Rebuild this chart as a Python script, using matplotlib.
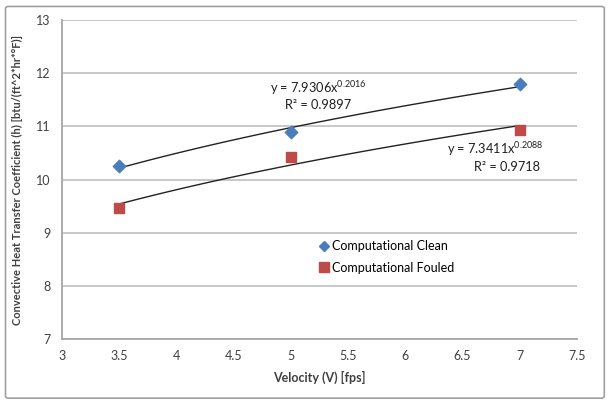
import numpy as np
import matplotlib.pyplot as plt
from matplotlib.patches import FancyBboxPatch
from matplotlib.lines import Line2D

plt.rcParams['font.family'] = ['Lato', 'DejaVu Sans']
plt.rcParams['mathtext.fontset'] = 'custom'
plt.rcParams['mathtext.rm'] = 'Lato'
plt.rcParams['mathtext.it'] = 'Lato'

# data
velocity = [3.5, 5, 7]
h_clean = [10.25, 10.9, 11.79]
h_fouled = [9.47, 10.43, 10.93]

x_ticks = [3, 3.5, 4, 4.5, 5, 5.5, 6, 6.5, 7, 7.5]
y_ticks = [7, 8, 9, 10, 11, 12, 13]

clean_eq = [r'y = 7.9306x$^{\mathregular{0.2016}}$', 'R² = 0.9897']
fouled_eq = [r'y = 7.3411x$^{\mathregular{0.2088}}$', 'R² = 0.9718']

blue = '#4a7ebb'
red = '#be4b48'

fig = plt.figure(figsize=(6.11, 4.03), dpi=100)
ax = fig.add_axes([0.1015, 0.159, 0.8425, 0.791])

# outer chart frame
fig.patches.append(FancyBboxPatch((0.009, 0.012), 0.98, 0.972, boxstyle='round,pad=0,rounding_size=0.005',
                                  transform=fig.transFigure, fill=False, edgecolor='#a0a0a0', lw=1.2))

ax.set_xlim(3, 7.5)
ax.set_ylim(7, 13)
ax.set_xticks(x_ticks)
ax.set_xticklabels([f'{t:g}' for t in x_ticks])
ax.set_yticks(y_ticks)
ax.grid(axis='y', color='#c4c4c4', lw=1.3)
ax.set_axisbelow(True)
for s in ['top', 'right']:
    ax.spines[s].set_visible(False)
for s in ['left', 'bottom']:
    ax.spines[s].set_color('#a6a6a6')
    ax.spines[s].set_linewidth(1.3)
ax.tick_params(length=0, labelsize=9, colors='#404040', pad=8)

# power-law trendlines fitted in log space
xs = np.linspace(velocity[0], velocity[-1], 100)
for ys in (h_clean, h_fouled):
    b, a = np.polyfit(np.log(velocity), np.log(ys), 1)
    ax.plot(xs, np.exp(a) * xs ** b, color='#222222', lw=1.0, zorder=2)

ax.scatter(velocity, h_clean, marker='D', s=40, color=blue, zorder=3)
ax.scatter(velocity, h_fouled, marker='s', s=60, color=red, zorder=3)

ax.text(5.24, 11.63, clean_eq[0], ha='center', fontsize=9.2, color='#202020')
ax.text(5.24, 11.33, clean_eq[1], ha='center', fontsize=9.2, color='#202020')
ax.text(6.79, 10.48, fouled_eq[0], ha='center', fontsize=9.2, color='#202020')
ax.text(6.89, 10.16, fouled_eq[1], ha='center', fontsize=9.2, color='#202020')

handles = [Line2D([], [], marker='D', ls='', color=blue, markersize=5),
           Line2D([], [], marker='s', ls='', color=red, markersize=7)]
ax.legend(handles, ['Computational Clean', 'Computational Fouled'], loc='upper left',
          bbox_to_anchor=(0.475, 0.345), frameon=False, fontsize=9, handletextpad=0.1,
          handlelength=1.0, labelspacing=0.75)

ax.set_xlabel('Velocity (V) [fps]', fontsize=9, fontweight='bold', color='#404040', labelpad=6)
ax.set_ylabel('Convective Heat Transfer Coefficient (h) [btu/(ft^2*hr*°F)]', fontsize=8,
              fontweight='bold', color='#404040', labelpad=10)

fig.savefig('out.png', dpi=100)
